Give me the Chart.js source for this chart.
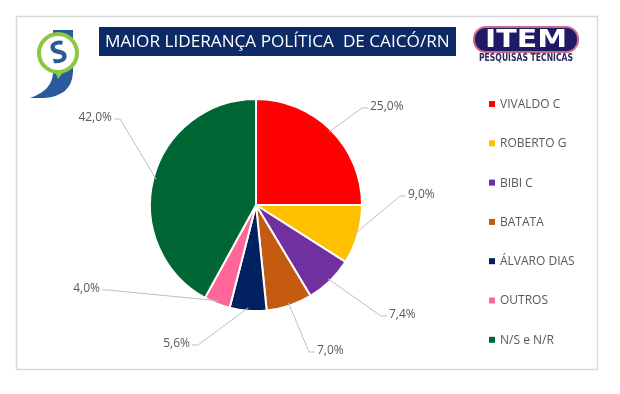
<!DOCTYPE html>
<html>
<head>
<meta charset="utf-8">
<script src="https://cdn.jsdelivr.net/npm/chart.js@4/dist/chart.umd.min.js"></script>
<style>
  html, body { margin: 0; padding: 0; background: #fff; }
  #wrap { width: 620px; height: 394px; position: relative; }
</style>
</head>
<body>
<div id="wrap"><canvas id="pie" width="620" height="394"></canvas></div>
<script>
const titleText = 'MAIOR LIDERANÇA POLÍTICA  DE CAICÓ/RN';
const candidates = ['VIVALDO C', 'ROBERTO G', 'BIBI C', 'BATATA', 'ÁLVARO DIAS', 'OUTROS', 'N/S e N/R'];
const shares = [25.0, 9.0, 7.4, 7.0, 5.6, 4.0, 42.0];
const sliceColors = ['#ff0000', '#ffc000', '#7030a0', '#c55a11', '#002060', '#ff6699', '#006633'];

// where each label's leader line bends, relative to the pie centre (px)
const leaderBends = [[106, -97], [144, -9], [125, 111], [53, 147], [-58, 140], [-148, 85], [-136, -86]];

const fontFamily = "'Open Sans', 'Noto Sans', sans-serif";
const pct = v => v.toFixed(1).replace('.', ',') + '%';

const decor = {
    id: 'decor',
    beforeDraw(chart) {
        const ctx = chart.ctx;
        ctx.save();
        // frame
        ctx.strokeStyle = '#d9d9d9';
        ctx.lineWidth = 1.5;
        ctx.strokeRect(16.5, 16.5, 581, 353);

        // title box
        ctx.fillStyle = '#0b2a66';
        ctx.fillRect(99, 27, 357, 29);
        ctx.fillStyle = '#ffffff';
        ctx.textBaseline = 'middle';
        ctx.textAlign = 'left';
        let fs = 18;
        ctx.font = fs + 'px ' + fontFamily;
        const w = ctx.measureText(titleText).width;
        fs = fs * 345 / w;
        ctx.font = fs + 'px ' + fontFamily;
        ctx.fillText(titleText, 105, 42);

        // left logo: blue J with green speech ring
        ctx.fillStyle = '#2b5a9c';
        ctx.beginPath();
        ctx.moveTo(53, 30);
        ctx.lineTo(73, 30);
        ctx.lineTo(73, 72);
        ctx.quadraticCurveTo(72, 96, 44, 98);
        ctx.lineTo(30, 98);
        ctx.quadraticCurveTo(53, 90, 53, 72);
        ctx.closePath();
        ctx.fill();
        ctx.fillStyle = '#ffffff';
        ctx.beginPath();
        ctx.arc(58, 53, 19, 0, Math.PI * 2);
        ctx.fill();
        ctx.strokeStyle = '#8dc63f';
        ctx.lineWidth = 4;
        ctx.beginPath();
        ctx.arc(58, 53, 19, 0, Math.PI * 2);
        ctx.stroke();
        ctx.fillStyle = '#8dc63f';
        ctx.beginPath();
        ctx.moveTo(55, 71);
        ctx.lineTo(64, 71);
        ctx.lineTo(58, 79);
        ctx.closePath();
        ctx.fill();
        ctx.fillStyle = '#2b5a9c';
        ctx.font = 'bold 30px ' + fontFamily;
        ctx.textAlign = 'center';
        ctx.save();
        ctx.translate(59, 54);
        ctx.rotate(-0.25);
        ctx.fillText('S', 0, 0);
        ctx.restore();

        // ITEM logo
        ctx.fillStyle = '#1f1a66';
        ctx.strokeStyle = '#c96a8a';
        ctx.lineWidth = 2;
        ctx.beginPath();
        ctx.roundRect(474, 27, 104, 25, 12);
        ctx.fill();
        ctx.stroke();
        ctx.fillStyle = '#ffffff';
        ctx.font = '900 24px ' + "'DejaVu Sans', sans-serif";
        ctx.save();
        ctx.translate(526, 40);
        const iw = ctx.measureText('ITEM').width;
        ctx.scale(82 / iw, 1);
        ctx.fillText('ITEM', 0, 1);
        ctx.restore();
        ctx.fillStyle = '#2a2a5a';
        ctx.font = 'bold 10px ' + "'DejaVu Sans Condensed', 'DejaVu Sans', sans-serif";
        ctx.save();
        ctx.translate(526, 58);
        const pw = ctx.measureText('PESQUISAS TECNICAS').width;
        ctx.scale(94 / pw, 1.05);
        ctx.fillText('PESQUISAS TECNICAS', 0, 0);
        ctx.restore();

        // legend
        ctx.textAlign = 'left';
        ctx.font = '12px ' + fontFamily;
        chart.data.labels.forEach((lab, i) => {
            const y = 104 + i * 39.3;
            ctx.fillStyle = sliceColors[i];
            ctx.fillRect(489, y - 3, 6, 6);
            ctx.fillStyle = '#595959';
            ctx.fillText(lab, 500, y + 0.5);
        });
        ctx.restore();
    },
    afterDatasetsDraw(chart) {
        const ctx = chart.ctx;
        const meta = chart.getDatasetMeta(0);
        ctx.save();
        ctx.font = '12px ' + fontFamily;
        ctx.textBaseline = 'middle';
        meta.data.forEach((arc, i) => {
            const p = arc.getProps(['x', 'y', 'startAngle', 'endAngle', 'outerRadius'], true);
            const mid = (p.startAngle + p.endAngle) / 2;
            const sx = p.x + Math.cos(mid) * (p.outerRadius - 3);
            const sy = p.y + Math.sin(mid) * (p.outerRadius - 3);
            const bx = p.x + leaderBends[i][0];
            const by = p.y + leaderBends[i][1];
            const side = leaderBends[i][0] > 0 ? 1 : -1;
            const ex = bx + side * 6;
            ctx.strokeStyle = '#bfbfbf';
            ctx.lineWidth = 1;
            ctx.beginPath();
            ctx.moveTo(sx, sy);
            ctx.lineTo(bx, by);
            ctx.lineTo(ex, by);
            ctx.stroke();
            ctx.fillStyle = '#595959';
            ctx.textAlign = side > 0 ? 'left' : 'right';
            ctx.fillText(pct(shares[i]), ex + side * 2, by - 1);
        });
        ctx.restore();
    }
};

new Chart(document.getElementById('pie').getContext('2d'), {
    type: 'pie',
    data: {
        labels: candidates,
        datasets: [{
            data: shares,
            backgroundColor: sliceColors,
            borderColor: '#ffffff',
            borderWidth: 2,
        }],
    },
    options: {
        responsive: false,
        animation: false,
        layout: {
            padding: { left: 149, right: 257, top: 98, bottom: 82 },
        },
        plugins: {
            legend: { display: false },
            tooltip: { enabled: false },
            title: { display: false },
        },
    },
    plugins: [decor],
});
</script>
</body>
</html>
